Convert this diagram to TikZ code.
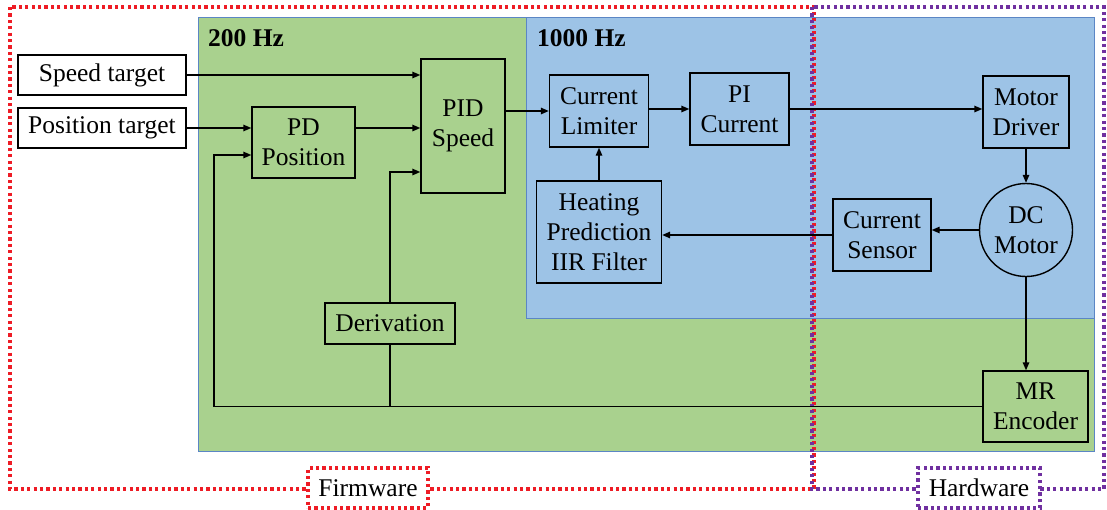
\documentclass[tikz,border=0pt]{standalone}
\usepackage{fontspec}
\setmainfont{Liberation Serif}
\usetikzlibrary{arrows.meta,calc}
\definecolor{gfill}{HTML}{A9D18E}
\definecolor{bfill}{HTML}{9DC3E6}
\definecolor{regedge}{HTML}{5B86C5}
\definecolor{fwred}{HTML}{EE1C25}
\definecolor{hwpurple}{HTML}{7030A0}
\begin{document}
\begin{tikzpicture}[x=1pt,y=-1pt,
  every node/.style={font=\fontsize{25.5pt}{30pt}\selectfont},
  blockbox/.style={draw=black,line width=1.4pt,inner sep=0pt,align=center},
  arr/.style={line width=1.4pt,-{Triangle[length=8pt,width=6.5pt]}},
  conn/.style={line width=1.4pt},
  region/.style={draw=regedge,line width=0.8pt},
  dotpat/.style={line width=3.2pt,dash pattern=on 3.2pt off 3.2pt},
  fwline/.style={draw=fwred,dotpat},
  hwline/.style={draw=hwpurple,dotpat},
  ]
\useasboundingbox (0,0) rectangle (1107,509);
% regions
\fill[gfill] (198,17) rectangle (1094,451);
\draw[region] (198,17) rectangle (1094,451);
\fill[bfill] (526,17) rectangle (1094,318);
\draw[region] (526,17) rectangle (1094,318);
\node[anchor=west,inner sep=0pt,font=\fontsize{25.5pt}{30pt}\selectfont\bfseries] (f200) at (208,38) {200 Hz};
\node[anchor=west,inner sep=0pt,font=\fontsize{25.5pt}{30pt}\selectfont\bfseries] (f1000) at (537,38) {1000 Hz};
% firmware / hardware frames
\draw[fwline] (10,7) rectangle (814,489);
\draw[hwline] (812,7) rectangle (1104,489);
\node[fwline,fill=white,minimum width=120pt,minimum height=40pt,inner sep=0pt] (fw) at (368,488) {Firmware};
\node[hwline,fill=white,minimum width=122pt,minimum height=40pt,inner sep=0pt] (hw) at (979,488) {Hardware};
% blocks
\node[blockbox,fill=white,minimum width=168pt,minimum height=40pt] (speed) at (102,75) {Speed target};
\node[blockbox,fill=white,minimum width=168pt,minimum height=40pt] (pos) at (102,128) {Position target};
\node[blockbox,minimum width=103pt,minimum height=71pt] (pd) at (303.5,142.5) {PD\\Position};
\node[blockbox,minimum width=84pt,minimum height=134pt] (pid) at (463,126) {PID\\Speed};
\node[blockbox,minimum width=99pt,minimum height=72pt] (cl) at (599,111) {Current\\Limiter};
\node[blockbox,minimum width=99pt,minimum height=72pt] (pi) at (739.5,109) {PI\\Current};
\node[blockbox,minimum width=86pt,minimum height=72pt] (md) at (1026,112) {Motor\\Driver};
\node[blockbox,circle,minimum size=93pt] (dc) at (1026,230) {DC\\Motor};
\node[blockbox,minimum width=98pt,minimum height=72pt] (cs) at (882,235) {Current\\Sensor};
\node[blockbox,minimum width=125pt,minimum height=102pt] (heat) at (599,232) {Heating\\Prediction\\IIR Filter};
\node[blockbox,minimum width=130pt,minimum height=41pt] (der) at (390,323.5) {Derivation};
\node[blockbox,minimum width=105pt,minimum height=71pt] (mr) at (1035.5,406.5) {MR\\Encoder};
% helper coordinates
\coordinate (fbx) at (214,0);
\coordinate (pdin) at ([yshift=-12.5pt]pd.west);
\coordinate (pidin) at ([yshift=-46pt]pid.west);
% connectors
\draw[arr] (speed.east) -- (speed.east -| pid.west);
\draw[arr] (pos.east) -- (pos.east -| pd.west);
\draw[arr] (pd.east |- pos.east) -- (pid.west |- pos.east);
\draw[arr] (pid.east |- cl.west) -- (cl.west);
\draw[arr] (cl.east |- pi.west) -- (pi.west);
\draw[arr] (pi.east) -- (pi.east -| md.west);
\draw[arr] (md.south) -- (dc.north);
\draw[arr] (dc.west) -- (dc.west -| cs.east);
\draw[arr] (cs.west) -- (cs.west -| heat.east);
\draw[arr] (heat.north) -- (cl.south);
\draw[arr] (dc.south) -- (dc.south |- mr.north);
\draw[arr] (mr.west) -- (mr.west -| fbx) |- (pdin);
\draw[conn] (der.south) -- (der.south |- mr.west);
\draw[arr] (der.north) |- (pidin);
\end{tikzpicture}
\end{document}
